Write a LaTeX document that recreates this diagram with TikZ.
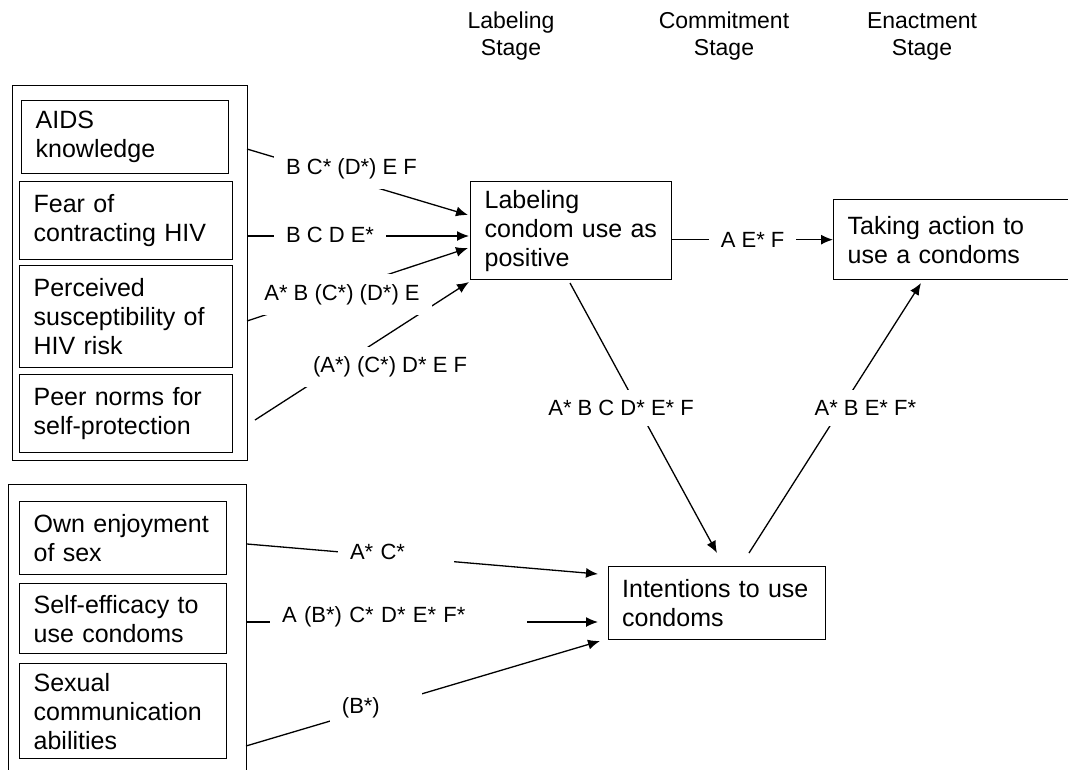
\documentclass[tikz,border=0pt]{standalone}
\usepackage{fontspec}
\setmainfont{Liberation Sans}
\usetikzlibrary{arrows.meta}

\begin{document}
\begin{tikzpicture}[x = 1pt, y = -1pt, line width = 1.3pt,
    box/.style = {draw, anchor = north west, align = left, inner xsep = 14pt,
        inner ysep = 0pt, font = \fontsize{25}{29}\selectfont},
    frame/.style = {draw, anchor = north west, inner sep = 0pt},
    lbl/.style = {fill = white, inner xsep = 12pt, inner ysep = 10pt,
        font = \fontsize{22}{26}\selectfont},
    stage/.style = {align = center, font = \fontsize{23}{27}\selectfont},
    arr/.style = {-{Latex[length = 12pt, width = 10pt]}}]

    \useasboundingbox (0,0) rectangle (1068,769);

    % stage headings
    \node[stage] (hlab) at (511,36) {Labeling\\Stage};
    \node[stage] (hcom) at (724,36) {Commitment\\Stage};
    \node[stage] (henc) at (922,36) {Enactment\\Stage};

    % risk group
    \node[frame, minimum width = 235pt, minimum height = 375pt] (riskgrp) at (12,85) {};
    \node[box, text width = 179pt, minimum height = 73pt] (aids) at (21,100) {AIDS\\knowledge};
    \node[box, text width = 185pt, minimum height = 78pt] (fear) at (19,181) {Fear of\\contracting HIV};
    \node[box, text width = 185pt, minimum height = 102pt] (susc) at (19,265) {Perceived\\susceptibility of\\HIV risk};
    \node[box, text width = 185pt, minimum height = 78pt] (peer) at (19,374) {Peer norms for\\self-protection};

    % personal group
    \node[frame, minimum width = 238pt, minimum height = 295pt] (selfgrp) at (8,484) {};
    \node[box, text width = 179pt, minimum height = 73pt] (own) at (19,501) {Own enjoyment\\of sex};
    \node[box, text width = 179pt, minimum height = 70pt] (eff) at (19,583) {Self-efficacy to\\use condoms};
    \node[box, text width = 179pt, minimum height = 95pt] (comm) at (19,663) {Sexual\\communication\\abilities};

    % stages
    \node[box, text width = 173pt, minimum height = 98pt] (lab) at (470,181) {Labeling\\condom use as\\positive};
    \node[box, text width = 214pt, minimum height = 80pt] (act) at (833,199) {Taking action to\\use a condoms};
    \node[box, text width = 190pt, inner xsep = 13.5pt, minimum height = 73pt] (intent) at (608,566) {Intentions to use\\condoms};

    % line ends
    \coordinate (aids out) at (247,149);
    \coordinate (fear out) at (247,236);
    \coordinate (susc out) at (247,321);
    \coordinate (peer out) at (255,420);
    \coordinate (lab in1) at (468,215);
    \coordinate (lab in2) at (469,236);
    \coordinate (lab in3) at (468,248);
    \coordinate (lab in4) at (469,282);
    \coordinate (lab down) at (570,283);
    \coordinate (intent up1) at (717,553);
    \coordinate (intent up2) at (749,553);
    \coordinate (act low) at (921,283);
    \coordinate (own out) at (247,544);
    \coordinate (eff out) at (247,622);
    \coordinate (comm out) at (246,746);
    \coordinate (intent in1) at (598,574);
    \coordinate (intent in2) at (598,622);
    \coordinate (intent in3) at (600,641);

    \draw[arr] (aids out) -- node[lbl, pos = 0.473, yshift = 11pt] {B C* (D*) E F} (lab in1);
    \draw[arr] (fear out) -- node[lbl, pos = 0.374, yshift = 1pt] {B C D E*} (lab in2);
    \draw[arr] (peer out) -- node[lbl, pos = 0.631, yshift = -34pt] {(A*) (C*) D* E F} (lab in4);
    \draw[arr] (susc out) -- node[lbl, pos = 0.43, yshift = -5pt] {A* B (C*) (D*) E} (lab in3);

    \draw[arr] (lab.east |- act.west) -- node[lbl, pos = 0.5] {A E* F} (act.west);
    \draw[arr] (lab down) -- node[lbl, pos = 0.463, xshift = -17pt] {A* B C D* E* F} (intent up1);
    \draw[arr] (intent up2) -- node[lbl, pos = 0.537, xshift = 24pt] {A* B E* F*} (act low);

    \draw[arr] (own out) -- node[lbl, text width = 92pt, align = left, pos = 0.4245, yshift = 5pt] {A* C*} (intent in1);
    \draw[arr] (eff out) -- node[lbl, text width = 233pt, align = left, pos = 0.432, yshift = 5pt] {A (B*) C* D* E* F*} (intent in2);
    \draw[arr] (comm out) -- node[lbl, text width = 68pt, align = left, pos = 0.367] {(B*)} (intent in3);
\end{tikzpicture}
\end{document}
